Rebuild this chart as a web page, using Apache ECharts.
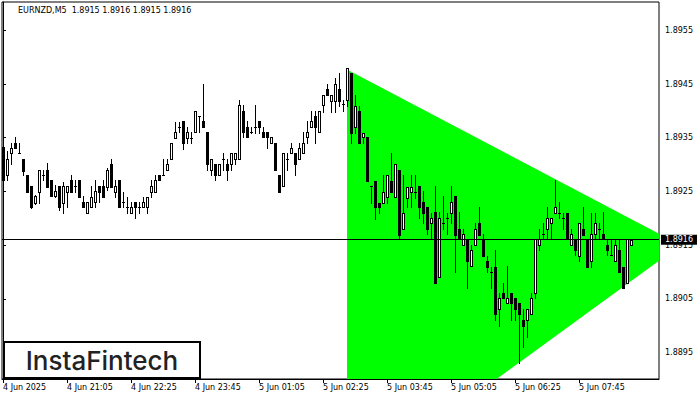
<!DOCTYPE html>
<html><head><meta charset="utf-8">
<script src="https://cdn.jsdelivr.net/npm/echarts@6/dist/echarts.min.js"></script>
<style>html,body{margin:0;padding:0;background:#fff}#c{width:700px;height:400px}</style>
</head><body><div id="c"></div>
<script>
const symbol = 'EURNZD,M5';
const opens = [1.89333,1.89281,1.89322,1.89340,1.89322,1.89310,1.89281,1.89260,1.89228,1.89249,
1.89281,1.89290,1.89271,1.89242,1.89260,1.89228,1.89249,1.89271,1.89260,1.89271,
1.89230,1.89210,1.89221,1.89230,1.89260,1.89260,1.89258,1.89301,1.89249,1.89271,
1.89230,1.89221,1.89210,1.89230,1.89221,1.89221,1.89221,1.89249,1.89249,1.89281,
1.89281,1.89290,1.89310,1.89349,1.89370,1.89381,1.89349,1.89349,1.89361,1.89390,
1.89381,1.89361,1.89290,1.89301,1.89281,1.89310,1.89301,1.89301,1.89310,1.89310,
1.89400,1.89370,1.89361,1.89370,1.89381,1.89361,1.89361,1.89340,1.89340,1.89281,
1.89260,1.89310,1.89322,1.89322,1.89310,1.89322,1.89351,1.89370,1.89390,1.89361,
1.89411,1.89441,1.89418,1.89418,1.89441,1.89413,1.89420,1.89470,1.89370,1.89400,
1.89351,1.89351,1.89260,1.89269,1.89228,1.89228,1.89240,1.89269,1.89240,1.89290,
1.89180,1.89238,1.89249,1.89249,1.89260,1.89230,1.89221,1.89191,1.89212,1.89091,
1.89191,1.89200,1.89210,1.89242,1.89180,1.89150,1.89161,1.89111,1.89150,1.89191,
1.89161,1.89120,1.89100,1.89109,1.89031,1.89061,1.89042,1.89061,1.89052,1.89042,
1.89011,1.89011,1.89022,1.89061,1.89150,1.89171,1.89180,1.89191,1.89210,1.89210,
1.89200,1.89210,1.89150,1.89161,1.89130,1.89180,1.89161,1.89120,1.89171,1.89180,
1.89171,1.89150,1.89132,1.89120,1.89141,1.89109,1.89079,1.89150];
const highs = [1.89340,1.89325,1.89340,1.89351,1.89340,1.89310,1.89281,1.89260,1.89243,1.89290,
1.89290,1.89303,1.89271,1.89262,1.89260,1.89268,1.89260,1.89281,1.89271,1.89271,
1.89242,1.89230,1.89260,1.89271,1.89260,1.89271,1.89294,1.89310,1.89271,1.89271,
1.89249,1.89240,1.89230,1.89230,1.89230,1.89240,1.89240,1.89271,1.89281,1.89281,
1.89310,1.89310,1.89340,1.89379,1.89379,1.89381,1.89370,1.89361,1.89400,1.89390,
1.89450,1.89361,1.89310,1.89301,1.89301,1.89322,1.89310,1.89322,1.89322,1.89420,
1.89411,1.89381,1.89370,1.89411,1.89381,1.89370,1.89361,1.89351,1.89340,1.89281,
1.89322,1.89322,1.89340,1.89322,1.89340,1.89361,1.89381,1.89400,1.89400,1.89400,
1.89430,1.89450,1.89430,1.89461,1.89470,1.89420,1.89480,1.89470,1.89430,1.89409,
1.89359,1.89351,1.89260,1.89269,1.89228,1.89281,1.89281,1.89322,1.89301,1.89290,
1.89281,1.89258,1.89281,1.89281,1.89260,1.89251,1.89221,1.89210,1.89260,1.89212,
1.89242,1.89210,1.89260,1.89242,1.89212,1.89180,1.89161,1.89150,1.89191,1.89221,
1.89171,1.89130,1.89109,1.89141,1.89061,1.89079,1.89111,1.89061,1.89052,1.89042,
1.89031,1.89031,1.89061,1.89161,1.89180,1.89191,1.89221,1.89200,1.89271,1.89230,
1.89210,1.89210,1.89180,1.89161,1.89191,1.89221,1.89161,1.89210,1.89210,1.89191,
1.89212,1.89161,1.89161,1.89161,1.89161,1.89109,1.89161,1.89160];
const lows = [1.89268,1.89271,1.89301,1.89331,1.89322,1.89281,1.89249,1.89219,1.89227,1.89228,
1.89271,1.89258,1.89242,1.89240,1.89216,1.89210,1.89221,1.89249,1.89249,1.89240,
1.89221,1.89210,1.89221,1.89221,1.89230,1.89240,1.89253,1.89258,1.89240,1.89221,
1.89221,1.89210,1.89210,1.89200,1.89210,1.89221,1.89210,1.89240,1.89249,1.89271,
1.89281,1.89290,1.89310,1.89349,1.89361,1.89329,1.89340,1.89340,1.89361,1.89361,
1.89370,1.89290,1.89281,1.89271,1.89281,1.89290,1.89271,1.89290,1.89301,1.89310,
1.89351,1.89351,1.89359,1.89359,1.89359,1.89351,1.89331,1.89340,1.89290,1.89249,
1.89260,1.89290,1.89322,1.89281,1.89310,1.89322,1.89340,1.89370,1.89340,1.89361,
1.89398,1.89430,1.89398,1.89398,1.89409,1.89400,1.89409,1.89340,1.89359,1.89340,
1.89340,1.89269,1.89228,1.89199,1.89210,1.89228,1.89228,1.89249,1.89240,1.89161,
1.89180,1.89221,1.89221,1.89238,1.89200,1.89191,1.89171,1.89161,1.89079,1.89091,
1.89180,1.89171,1.89191,1.89100,1.89161,1.89150,1.89070,1.89111,1.89150,1.89169,
1.89130,1.89100,1.89070,1.89011,1.88999,1.89052,1.89042,1.89011,1.89011,1.88930,
1.88960,1.88979,1.89022,1.89052,1.89141,1.89161,1.89161,1.89161,1.89210,1.89200,
1.89180,1.89161,1.89150,1.89132,1.89120,1.89169,1.89109,1.89109,1.89161,1.89161,
1.89161,1.89132,1.89132,1.89120,1.89100,1.89070,1.89079,1.89150];
const closes = [1.89271,1.89310,1.89331,1.89331,1.89322,1.89288,1.89249,1.89221,1.89242,1.89290,
1.89281,1.89258,1.89242,1.89251,1.89221,1.89260,1.89260,1.89249,1.89260,1.89240,
1.89221,1.89230,1.89240,1.89251,1.89249,1.89240,1.89290,1.89258,1.89260,1.89221,
1.89230,1.89221,1.89221,1.89221,1.89221,1.89230,1.89240,1.89260,1.89271,1.89271,
1.89281,1.89301,1.89340,1.89361,1.89370,1.89340,1.89361,1.89349,1.89400,1.89390,
1.89370,1.89301,1.89310,1.89281,1.89301,1.89310,1.89290,1.89322,1.89322,1.89411,
1.89361,1.89351,1.89361,1.89370,1.89370,1.89351,1.89351,1.89351,1.89290,1.89249,
1.89322,1.89310,1.89331,1.89301,1.89331,1.89340,1.89361,1.89381,1.89370,1.89400,
1.89430,1.89430,1.89430,1.89450,1.89418,1.89413,1.89480,1.89359,1.89409,1.89340,
1.89359,1.89269,1.89260,1.89221,1.89221,1.89249,1.89281,1.89249,1.89301,1.89169,
1.89210,1.89258,1.89258,1.89249,1.89221,1.89210,1.89180,1.89200,1.89079,1.89200,
1.89191,1.89200,1.89230,1.89169,1.89161,1.89171,1.89120,1.89141,1.89180,1.89169,
1.89130,1.89109,1.89100,1.89022,1.89052,1.89052,1.89052,1.89042,1.89031,1.89022,
1.88999,1.89031,1.89052,1.89161,1.89161,1.89171,1.89200,1.89200,1.89221,1.89210,
1.89200,1.89161,1.89171,1.89141,1.89191,1.89169,1.89109,1.89171,1.89191,1.89180,
1.89161,1.89141,1.89132,1.89150,1.89100,1.89070,1.89161,1.89160];
const xTickBars = [0,16,32,48,64,80,96,112,128,144];
const xTickLabels = ['4 Jun 2025','4 Jun 21:05','4 Jun 22:25','4 Jun 23:45','5 Jun 01:05','5 Jun 02:25','5 Jun 03:45','5 Jun 05:05','5 Jun 06:25','5 Jun 07:45'];
const yTicks = [1.8895,1.8905,1.8915,1.8925,1.8935,1.8945,1.8955];
const triangleBar = [86, 169.4, 86];
const trianglePrice = [1.89477, 1.8915, 1.88698];
const yMin = 1.889007, yMax = 1.896027;
const xMin = -0.25, xMax = 164;

const last = opens.length - 1;
const titleText = symbol + '  ' + [opens[last], highs[last], lows[last], closes[last]].map(v => v.toFixed(4)).join(' ');
const FONT = 'DejaVu Sans';

function renderCandle(params, api) {
  const i = api.value(0), o = api.value(1), h = api.value(2), l = api.value(3), c = api.value(4);
  const pO = api.coord([i, o]);
  const x = Math.round(pO[0]);
  const yO = Math.round(pO[1]), yC = Math.round(api.coord([i, c])[1]);
  const yH = Math.round(api.coord([i, h])[1]), yL = Math.round(api.coord([i, l])[1]);
  const top = Math.min(yO, yC), bot = Math.max(yO, yC);
  const children = [
    {type: 'rect', shape: {x: x, y: yH, width: 1, height: yL - yH + 1}, style: {fill: '#000'}},
    {type: 'rect', shape: {x: x - 1, y: top, width: 3, height: bot - top + 1}, style: {fill: '#000'}}
  ];
  if (c > o && bot - top >= 2) {
    children.push({type: 'rect', shape: {x: x, y: top + 1, width: 1, height: bot - top - 1}, style: {fill: '#fff'}});
  }
  return {type: 'group', children: children};
}
function renderTriangle(params, api) {
  const pts = triangleBar.map((b, k) => api.coord([b, trianglePrice[k]]));
  return {type: 'polygon', shape: {points: pts}, style: {fill: '#00ff00'}};
}

const chart = echarts.init(document.getElementById('c'), null, {renderer: 'svg'});
chart.setOption({
  animation: false,
  backgroundColor: '#fff',
  title: {text: titleText, left: 18, top: 6, padding: 0,
    textStyle: {fontSize: 8, fontWeight: 'normal', color: '#000', fontFamily: FONT}},
  grid: {left: 2, top: 2, right: 41, bottom: 21, show: true, borderColor: '#000', borderWidth: 1, backgroundColor: '#fff'},
  xAxis: {type: 'value', min: xMin, max: xMax,
    axisLine: {show: true, lineStyle: {color: '#000'}},
    splitLine: {show: false},
    axisTick: {show: true, customValues: xTickBars, length: 4, lineStyle: {color: '#000'}},
    axisLabel: {customValues: xTickBars, formatter: v => xTickLabels[xTickBars.indexOf(Math.round(v))],
      align: 'left', margin: 4, fontSize: 8, color: '#000', fontFamily: FONT}},
  yAxis: {type: 'value', position: 'right', min: yMin, max: yMax, scale: true,
    splitLine: {show: false},
    axisLine: {show: true, lineStyle: {color: '#000'}},
    axisTick: {show: true, customValues: yTicks, length: 3, lineStyle: {color: '#000'}},
    axisLabel: {customValues: yTicks, formatter: v => v.toFixed(4), margin: 6, fontSize: 8, color: '#000', fontFamily: FONT}},
  graphic: [
    {type: 'rect', shape: {x: 4, y: 342, width: 196, height: 36}, style: {fill: '#fff', stroke: '#000', lineWidth: 2}, z: 100},
    {type: 'text', x: 102, y: 360, z: 101, style: {text: 'InstaFintech', fill: '#222', font: '500 26px Inter',
      align: 'center', verticalAlign: 'middle', textAlign: 'center', textVerticalAlign: 'middle'}}
  ],
  series: [
    {type: 'custom', name: 'triangle', renderItem: renderTriangle, data: [[triangleBar[0], trianglePrice[0]]],
      encode: {x: 0, y: 1}, clip: true, silent: true, z: 1},
    {type: 'custom', name: 'candles', renderItem: renderCandle, clip: true, silent: true, z: 2,
      data: opens.map((o, i) => [i, o, highs[i], lows[i], closes[i]]),
      encode: {x: 0, y: [1, 2, 3, 4]}},
    {type: 'line', name: 'bid', data: [[last, closes[last]]], symbol: 'none', showSymbol: false, silent: true, z: 3,
      lineStyle: {opacity: 0},
      markLine: {silent: true, symbol: ['none', 'none'], animation: false, precision: 5,
        lineStyle: {color: '#000', width: 1, type: 'solid'},
        label: {show: true, position: 'end', distance: 2, formatter: () => closes[last].toFixed(4),
          color: '#fff', backgroundColor: '#000', padding: [1, 4, 1, 4], fontSize: 8, fontFamily: FONT},
        emphasis: {disabled: true},
        data: [{yAxis: closes[last]}]}}
  ]
});
</script></body></html>
